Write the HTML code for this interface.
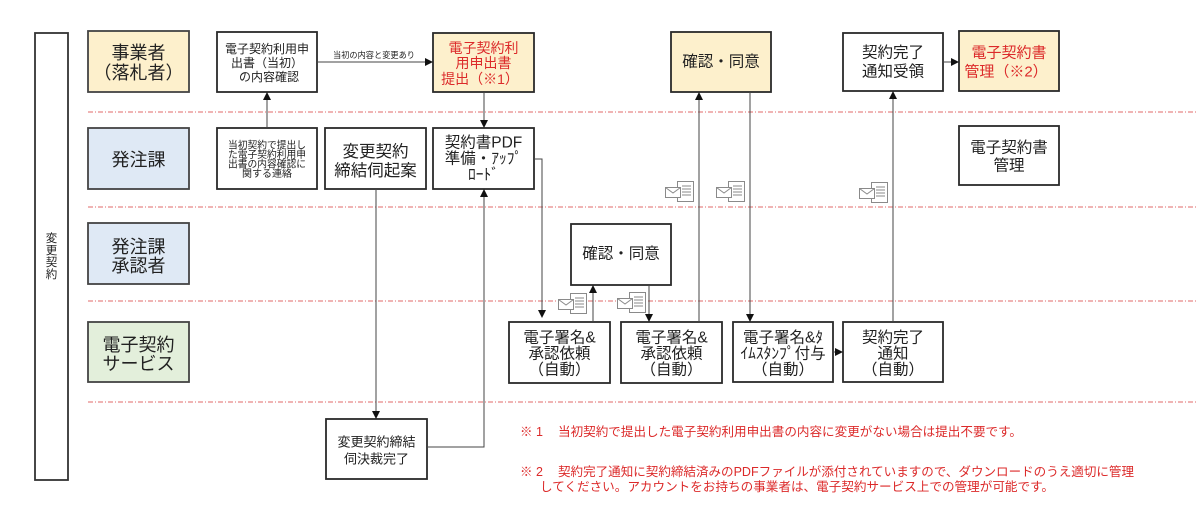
<!DOCTYPE html>
<html><head><meta charset="utf-8"><style>
html,body{margin:0;padding:0;background:#fff;}
svg{display:block;}
text{font-family:"Liberation Sans","Noto Sans CJK JP",sans-serif;fill:#222;}
.c{text-anchor:middle;dominant-baseline:central;}
.red{fill:#dc2a2a;}
</style></head><body>
<svg width="1200" height="517" viewBox="0 0 1200 517" xmlns="http://www.w3.org/2000/svg">
<rect x="0" y="0" width="1200" height="517" fill="#fff"/>
<defs>
<g id="env">
<rect x="12.5" y="0.5" width="16" height="20" fill="#fff" stroke="#8a8a8a" stroke-width="1"/>
<line x1="17" y1="5" x2="26" y2="5" stroke="#8a8a8a"/>
<line x1="17" y1="8" x2="26" y2="8" stroke="#8a8a8a"/>
<line x1="17" y1="11" x2="26" y2="11" stroke="#8a8a8a"/>
<line x1="17" y1="14" x2="26" y2="14" stroke="#8a8a8a"/>
<rect x="0.5" y="6.5" width="15" height="10" fill="#fff" stroke="#8a8a8a" stroke-width="1"/>
<polyline points="0.5,6.5 8,12 15.5,6.5" fill="none" stroke="#8a8a8a" stroke-width="1"/>
</g>
</defs>

<!-- dotted lane separators -->
<g stroke="#e06a6a" stroke-width="1" stroke-dasharray="5 2 1 2" fill="none">
<line x1="88" y1="112" x2="1196" y2="112"/>
<line x1="88" y1="207" x2="1196" y2="207"/>
<line x1="88" y1="301" x2="1196" y2="301"/>
<line x1="88" y1="402" x2="1196" y2="402"/>
</g>

<!-- left vertical box -->
<rect x="35" y="33" width="33" height="447" fill="#fff" stroke="#333" stroke-width="1.8"/>
<g font-size="11.5">
<text class="c" x="51.5" y="239">変</text>
<text class="c" x="51.5" y="251">更</text>
<text class="c" x="51.5" y="263">契</text>
<text class="c" x="51.5" y="275">約</text>
</g>

<!-- lane labels -->
<g stroke="#444" stroke-width="1.8">
<rect x="88" y="31" width="101" height="61" fill="#fdf0cc"/>
<rect x="88" y="128" width="101" height="61" fill="#dfe9f5"/>
<rect x="88" y="223" width="101" height="61" fill="#dfe9f5"/>
<rect x="88" y="322" width="101" height="60" fill="#e3efdb"/>
</g>
<g font-size="18">
<text class="c" x="138.5" y="53">事業者</text>
<text class="c" x="138.5" y="73">（落札者）</text>
<text class="c" x="138.5" y="160">発注課</text>
<text class="c" x="138.5" y="247">発注課</text>
<text class="c" x="138.5" y="266">承認者</text>
<text class="c" x="138.5" y="345">電子契約</text>
<text class="c" x="138.5" y="364">サービス</text>
</g>

<!-- process boxes -->
<g stroke="#2a2a2a" stroke-width="1.8">
<rect x="217" y="32" width="100" height="60" fill="#fff"/>
<rect x="433" y="33" width="101" height="59" fill="#fdf0cc"/>
<rect x="671" y="32" width="100" height="60" fill="#fdf0cc"/>
<rect x="843" y="33" width="100" height="58" fill="#fff"/>
<rect x="959" y="31" width="100" height="60" fill="#fdf0cc"/>
<rect x="217" y="128" width="100" height="61" fill="#fff"/>
<rect x="325" y="128" width="101" height="61" fill="#fff"/>
<rect x="433" y="128" width="101" height="61" fill="#fff"/>
<rect x="959" y="126" width="100" height="59" fill="#fff"/>
<rect x="571" y="224" width="100" height="61" fill="#fff"/>
<rect x="509" y="322" width="101" height="61" fill="#fff"/>
<rect x="621" y="322" width="101" height="61" fill="#fff"/>
<rect x="733" y="322" width="100" height="60" fill="#fff"/>
<rect x="843" y="322" width="100" height="60" fill="#fff"/>
<rect x="326" y="419" width="101" height="60" fill="#fff"/>
</g>

<!-- box texts -->
<g font-size="12">
<text class="c" x="267" y="49">電子契約利用申</text>
<text class="c" x="267" y="63">出書（当初）</text>
<text class="c" x="269" y="77">の内容確認</text>
</g>
<g font-size="14">
<text class="c red" x="483.5" y="48">電子契約利</text>
<text class="c red" x="483.5" y="63">用申出書</text>
<text class="c red" x="480" y="79">提出（※1）</text>
</g>
<text class="c" x="721" y="62" font-size="15.5">確認・同意</text>
<g font-size="15.5">
<text class="c" x="893" y="53">契約完了</text>
<text class="c" x="893" y="72">通知受領</text>
</g>
<g font-size="15">
<text class="c red" x="1009" y="53">電子契約書</text>
<text class="c red" x="1006" y="72">管理（※2）</text>
</g>

<g font-size="10">
<text class="c" x="267" y="146" textLength="78" lengthAdjust="spacingAndGlyphs">当初契約で提出し</text>
<text class="c" x="267" y="155.5" textLength="78" lengthAdjust="spacingAndGlyphs">た電子契約利用申</text>
<text class="c" x="267" y="165" textLength="78" lengthAdjust="spacingAndGlyphs">出書の内容確認に</text>
<text class="c" x="267" y="174.5">関する連絡</text>
</g>
<g font-size="16.5">
<text class="c" x="375.5" y="152">変更契約</text>
<text class="c" x="375.5" y="171">締結伺起案</text>
</g>
<g font-size="15.5">
<text class="c" x="483.5" y="143">契約書PDF</text>
<text class="c" x="483.5" y="159">準備・ｱｯﾌﾟ</text>
<text class="c" x="483.5" y="175">ﾛｰﾄﾞ</text>
</g>
<g font-size="15.5">
<text class="c" x="1009" y="148">電子契約書</text>
<text class="c" x="1009" y="166">管理</text>
</g>
<text class="c" x="621" y="254" font-size="15.5">確認・同意</text>

<g font-size="15.5">
<text class="c" x="559.5" y="338">電子署名&amp;</text>
<text class="c" x="559.5" y="354">承認依頼</text>
<text class="c" x="559.5" y="370">（自動）</text>
<text class="c" x="671.5" y="338">電子署名&amp;</text>
<text class="c" x="671.5" y="354">承認依頼</text>
<text class="c" x="671.5" y="370">（自動）</text>
<text class="c" x="783" y="338">電子署名&amp;ﾀ</text>
<text class="c" x="783" y="354">ｲﾑｽﾀﾝﾌﾟ付与</text>
<text class="c" x="783" y="370">（自動）</text>
<text class="c" x="893" y="338">契約完了</text>
<text class="c" x="893" y="354">通知</text>
<text class="c" x="893" y="370">（自動）</text>
</g>
<g font-size="13">
<text class="c" x="376.5" y="442">変更契約締結</text>
<text class="c" x="376.5" y="459">伺決裁完了</text>
</g>

<!-- connector label -->
<text x="333" y="55" font-size="8.5" fill="#444" dominant-baseline="central" textLength="82" lengthAdjust="spacingAndGlyphs">当初の内容と変更あり</text>

<!-- connectors -->
<g stroke="#444" stroke-width="1" fill="none">
<line x1="317" y1="62" x2="425" y2="62"/>
<line x1="267" y1="128" x2="267" y2="100"/>
<line x1="484" y1="92" x2="484" y2="120"/>
<line x1="376" y1="189" x2="376" y2="411"/>
<polyline points="427,447 484,447 484,197"/>
<polyline points="534,159 542,159 542,310"/>
<line x1="593" y1="322" x2="593" y2="293"/>
<line x1="649" y1="285" x2="649" y2="314"/>
<line x1="699" y1="322" x2="699" y2="100"/>
<line x1="750" y1="92" x2="750" y2="314"/>
<line x1="833" y1="352" x2="835" y2="352"/>
<line x1="893" y1="322" x2="893" y2="99"/>
<line x1="943" y1="62" x2="951" y2="62"/>
</g>
<g fill="#111">
<polygon points="433,62 425,58 425,66"/>
<polygon points="267,92 263,100 271,100"/>
<polygon points="484,128 480,120 488,120"/>
<polygon points="376,419 372,411 380,411"/>
<polygon points="484,189 480,197 488,197"/>
<polygon points="542,318 538,310 546,310"/>
<polygon points="593,285 589,293 597,293"/>
<polygon points="649,322 645,314 653,314"/>
<polygon points="699,92 695,100 703,100"/>
<polygon points="750,322 746,314 754,314"/>
<polygon points="843,352 835,348 835,356"/>
<polygon points="893,91 889,99 897,99"/>
<polygon points="959,62 951,58 951,66"/>
</g>

<!-- mail icons -->
<use href="#env" x="665" y="181"/>
<use href="#env" x="716" y="181"/>
<use href="#env" x="859" y="182"/>
<use href="#env" x="558" y="293"/>
<use href="#env" x="617" y="292"/>

<!-- notes -->
<g font-size="12.5">
<text class="red" x="520" y="432" dominant-baseline="central">※ 1</text>
<text class="red" x="558" y="432" dominant-baseline="central" textLength="464" lengthAdjust="spacingAndGlyphs">当初契約で提出した電子契約利用申出書の内容に変更がない場合は提出不要です。</text>
<text class="red" x="520" y="472" dominant-baseline="central">※ 2</text>
<text class="red" x="558" y="472" dominant-baseline="central" textLength="576" lengthAdjust="spacingAndGlyphs">契約完了通知に契約締結済みのPDFファイルが添付されていますので、ダウンロードのうえ適切に管理</text>
<text class="red" x="540" y="487" dominant-baseline="central" textLength="514" lengthAdjust="spacingAndGlyphs">してください。アカウントをお持ちの事業者は、電子契約サービス上での管理が可能です。</text>
</g>
</svg>
</body></html>
